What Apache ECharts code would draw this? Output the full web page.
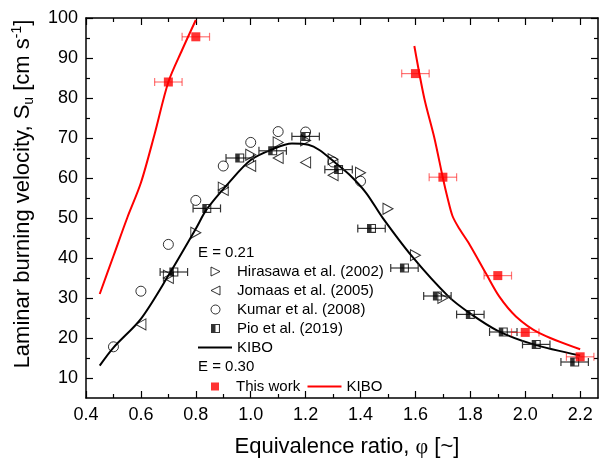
<!DOCTYPE html>
<html><head><meta charset="utf-8">
<script src="https://cdn.jsdelivr.net/npm/echarts@6/dist/echarts.min.js"></script>
<style>html,body{margin:0;padding:0;background:#fff}#c{width:603px;height:463px}</style>
</head><body><div id="c"></div>
<script>
// ---- tick values ----
const xMajorTicks = [0.4, 0.6, 0.8, 1.0, 1.2, 1.4, 1.6, 1.8, 2.0, 2.2];
const xMinorTicks = [0.5, 0.7, 0.9, 1.1, 1.3, 1.5, 1.7, 1.9, 2.1];
const yMajorTicks = [10, 20, 30, 40, 50, 60, 70, 80, 90, 100];
const yMinorTicks = [15, 25, 35, 45, 55, 65, 75, 85, 95];

// ---- E = 0.21 literature data ----
const hirasawaX = [0.7, 0.8, 0.9, 1.0, 1.1, 1.2, 1.3, 1.4, 1.5, 1.6, 1.7];
const hirasawaY = [35.6, 46.3, 57.6, 65.8, 68.9, 69.4, 64.7, 61.3, 52.3, 40.7, 30.0];
const jomaasX = [0.6, 0.7, 0.9, 1.0, 1.1, 1.2, 1.3];
const jomaasY = [23.4, 35.0, 57.0, 63.0, 65.0, 63.9, 60.7];
const kumarX = [0.5, 0.6, 0.7, 0.8, 0.9, 1.0, 1.1, 1.2, 1.3, 1.4];
const kumarY = [17.8, 31.7, 43.4, 54.4, 63.0, 68.9, 71.6, 71.5, 64.0, 59.2];
const pioX = [0.72, 0.84, 0.96, 1.08, 1.2, 1.32, 1.44, 1.56, 1.68, 1.8, 1.92, 2.04, 2.18];
const pioY = [36.5, 52.4, 65.0, 66.8, 70.4, 62.1, 47.4, 37.5, 30.5, 25.9, 21.5, 18.4, 14.0];
const pioErr = [0.05, 0.05, 0.05, 0.05, 0.05, 0.05, 0.05, 0.05, 0.05, 0.05, 0.05, 0.05, 0.05];

// ---- KIBO E = 0.21 ----
const kibo21X = [0.45, 0.5, 0.6, 0.7, 0.8, 0.84, 0.92, 1.0, 1.08, 1.15, 1.21, 1.25, 1.31, 1.36, 1.42, 1.48, 1.59, 1.72, 1.8, 1.9, 2.03, 2.2];
const kibo21Y = [13.1, 17.6, 24.8, 35.6, 47.3, 52.2, 58.8, 64.5, 67.2, 68.6, 68.3, 67.0, 63.7, 60.8, 56.3, 50.1, 40.2, 30.4, 26.1, 21.8, 18.4, 15.6];

// ---- This work, E = 0.30 ----
const thisWorkX = [0.7, 0.8, 1.6, 1.7, 1.9, 2.0, 2.2];
const thisWorkY = [84.0, 95.3, 86.1, 60.2, 35.6, 21.4, 15.3];
const thisWorkErr = [0.05, 0.05, 0.05, 0.05, 0.05, 0.05, 0.05];

// ---- KIBO E = 0.30 (lean and rich branches) ----
const kibo30LeanX = [0.45, 0.5, 0.55, 0.6, 0.65, 0.7, 0.75, 0.8];
const kibo30LeanY = [31.0, 40.5, 50.0, 58.8, 71.0, 84.0, 92.0, 99.5];
const kibo30RichX = [1.596, 1.632, 1.669, 1.7, 1.717, 1.735, 1.76, 1.796, 1.857, 1.905, 1.966, 2.05, 2.2];
const kibo30RichY = [93.0, 80.0, 70.0, 60.0, 55.0, 50.5, 47.3, 43.5, 36.1, 30.4, 25.4, 21.3, 17.2];

const FONT = 'Liberation Sans';
const zip = (xs, ys) => xs.map((x, i) => [x, ys[i]]);
const zip3 = (xs, ys, es) => xs.map((x, i) => [x, ys[i], es[i]]);

function errorBar(color) {
  return function (params, api) {
    const x = api.value(0), y = api.value(1), e = api.value(2);
    const p1 = api.coord([x - e, y]);
    const p2 = api.coord([x + e, y]);
    const h = 4;
    const st = { stroke: color, lineWidth: 1.2, fill: null };
    return {
      type: 'group',
      children: [
        { type: 'line', shape: { x1: p1[0], y1: p1[1], x2: p2[0], y2: p2[1] }, style: st },
        { type: 'line', shape: { x1: p1[0], y1: p1[1] - h, x2: p1[0], y2: p1[1] + h }, style: st },
        { type: 'line', shape: { x1: p2[0], y1: p2[1] - h, x2: p2[0], y2: p2[1] + h }, style: st }
      ]
    };
  };
}

const XMIN = 0.4, XMAX = 2.265, YMIN = 5, YMAX = 100;
const lineC = { show: true, lineStyle: { color: '#000', width: 1.5 } };

function xAx(pos, ticks, len, labels) {
  return {
    type: 'value', position: pos, min: XMIN, max: XMAX,
    axisLine: len === 7 ? lineC : { show: false },
    axisTick: { show: true, inside: true, length: len, customValues: ticks, lineStyle: { color: '#000', width: 1.2 } },
    axisLabel: labels ? { show: true, customValues: labels, formatter: v => v.toFixed(1), color: '#000', fontSize: 18, fontFamily: FONT, margin: 8 } : { show: false },
    splitLine: { show: false }
  };
}
function yAx(pos, ticks, len, labels) {
  return {
    type: 'value', position: pos, min: YMIN, max: YMAX,
    axisLine: len === 7 ? lineC : { show: false },
    axisTick: { show: true, inside: true, length: len, customValues: ticks, lineStyle: { color: '#000', width: 1.2 } },
    axisLabel: labels ? { show: true, customValues: labels, formatter: v => String(v), color: '#000', fontSize: 18, fontFamily: FONT, margin: 8 } : { show: false },
    splitLine: { show: false }
  };
}

const xAxes = [
  xAx('bottom', xMajorTicks, 7, xMajorTicks),
  xAx('bottom', xMinorTicks, 4, false),
  xAx('top', xMajorTicks, 7, false),
  xAx('top', xMinorTicks, 4, false)
];
xAxes[0].name = '{a|Equivalence ratio, }{phi|φ}{a| [~]}';
xAxes[0].nameLocation = 'middle';
xAxes[0].nameGap = 38;
xAxes[0].nameTextStyle = {
  padding: [0, 0, 0, 10],
  rich: {
    a: { fontSize: 22, fontFamily: FONT, color: '#000' },
    phi: { fontSize: 22, fontFamily: 'Liberation Serif', color: '#000' }
  }
};

const yAxes = [
  yAx('left', yMajorTicks, 7, yMajorTicks),
  yAx('left', yMinorTicks, 4, false),
  yAx('right', yMajorTicks, 7, false),
  yAx('right', yMinorTicks, 4, false)
];
yAxes[0].name = '{a|Laminar burning velocity, S}{sub|u}{a| [cm s}{sup|-1}{a|]}';
yAxes[0].nameLocation = 'middle';
yAxes[0].nameGap = 50;
yAxes[0].nameTextStyle = {
  padding: [0, 0, 0, 28],
  rich: {
    a: { fontSize: 22, fontFamily: FONT, color: '#000', lineHeight: 26 },
    sub: { fontSize: 14, fontFamily: FONT, color: '#000', lineHeight: 14, verticalAlign: 'bottom' },
    sup: { fontSize: 14, fontFamily: FONT, color: '#000', lineHeight: 14, verticalAlign: 'top' }
  }
};

const hollow = { color: 'transparent', borderColor: '#000', borderWidth: 1 };
const triRight = 'path://M0,0L10,5L0,10Z';
const triLeft = 'path://M10,0L0,5L10,10Z';
const pioPath = 'path://M0,0L10,0L10,10L0,10Z M5,1.2L5,8.8L8.8,8.8L8.8,1.2Z';
const legendText = { fontSize: 15, fontFamily: FONT, color: '#000', lineHeight: 15 };
const legendTextPad = { fontSize: 15, fontFamily: FONT, color: '#000', lineHeight: 15, padding: [0, 0, 0, 12] };

const option = {
  backgroundColor: '#fff',
  animation: false,
  grid: { left: 86, right: 5, top: 18, bottom: 62, containLabel: false },
  xAxis: xAxes,
  yAxis: yAxes,
  legend: [
    {
      orient: 'vertical', left: 210.5, top: 264, padding: 0,
      itemWidth: 9, itemHeight: 9, itemGap: 4, selectedMode: false,
      itemStyle: { borderWidth: 1 },
      textStyle: legendTextPad,
      data: ['Hirasawa et al. (2002)', 'Jomaas et al. (2005)', 'Kumar et al. (2008)', 'Pio et al. (2019)']
    },
    {
      orient: 'vertical', left: 198, top: 340, padding: 0,
      itemWidth: 34, itemHeight: 2, selectedMode: false,
      textStyle: legendText,
      data: [{ name: 'KIBO', icon: 'rect' }]
    },
    {
      orient: 'horizontal', left: 211, top: 379, padding: 0,
      itemWidth: 8, itemHeight: 8, selectedMode: false,
      textStyle: legendTextPad,
      data: ['This work']
    },
    {
      orient: 'horizontal', left: 307.5, top: 379, padding: 0,
      itemWidth: 34, itemHeight: 2, selectedMode: false,
      textStyle: legendText,
      formatter: n => (n.indexOf('KIBO') === 0 ? 'KIBO' : n),
      data: [{ name: 'KIBO (E = 0.30)', icon: 'rect' }]
    }
  ],
  graphic: [
    { type: 'text', left: 198, top: 245, style: { text: 'E = 0.21', fontSize: 15, fontFamily: FONT, fill: '#000' } },
    { type: 'text', left: 198, top: 359, style: { text: 'E = 0.30', fontSize: 15, fontFamily: FONT, fill: '#000' } }
  ],
  series: [
    {
      name: 'KIBO', type: 'line', data: zip(kibo21X, kibo21Y), smooth: 0.3, symbol: 'none',
      lineStyle: { color: '#000', width: 2 }, itemStyle: { color: '#000' }, z: 2
    },
    {
      name: 'KIBO (E = 0.30)', type: 'line', data: zip(kibo30LeanX, kibo30LeanY), smooth: 0.3, symbol: 'none',
      lineStyle: { color: '#ff0000', width: 2 }, itemStyle: { color: '#ff0000' }, z: 2
    },
    {
      name: 'KIBO (E = 0.30)', type: 'line', data: zip(kibo30RichX, kibo30RichY), smooth: 0.3, symbol: 'none',
      lineStyle: { color: '#ff0000', width: 2 }, itemStyle: { color: '#ff0000' }, z: 2
    },
    {
      name: 'pioErr', type: 'custom', data: zip3(pioX, pioY, pioErr), renderItem: errorBar('#333'), z: 3, silent: true
    },
    {
      name: 'thisWorkErr', type: 'custom', data: zip3(thisWorkX, thisWorkY, thisWorkErr), renderItem: errorBar('rgba(255,0,0,0.55)'), z: 3, silent: true
    },
    {
      name: 'Hirasawa et al. (2002)', type: 'scatter', data: zip(hirasawaX, hirasawaY),
      symbol: triRight, symbolSize: [10, 11], itemStyle: hollow, z: 4
    },
    {
      name: 'Jomaas et al. (2005)', type: 'scatter', data: zip(jomaasX, jomaasY),
      symbol: triLeft, symbolSize: [10, 11], itemStyle: hollow, z: 4
    },
    {
      name: 'Kumar et al. (2008)', type: 'scatter', data: zip(kumarX, kumarY),
      symbol: 'circle', symbolSize: 10, itemStyle: hollow, z: 4
    },
    {
      name: 'Pio et al. (2019)', type: 'scatter', data: zip(pioX, pioY),
      symbol: pioPath, symbolSize: 9, itemStyle: { color: '#000' }, z: 5
    },
    {
      name: 'This work', type: 'scatter', data: zip(thisWorkX, thisWorkY),
      symbol: 'rect', symbolSize: 9, itemStyle: { color: '#ff0000' }, z: 5
    }
  ]
};

const chart = echarts.init(document.getElementById('c'), null, { renderer: 'canvas' });
chart.setOption(option);
</script>
</body></html>
